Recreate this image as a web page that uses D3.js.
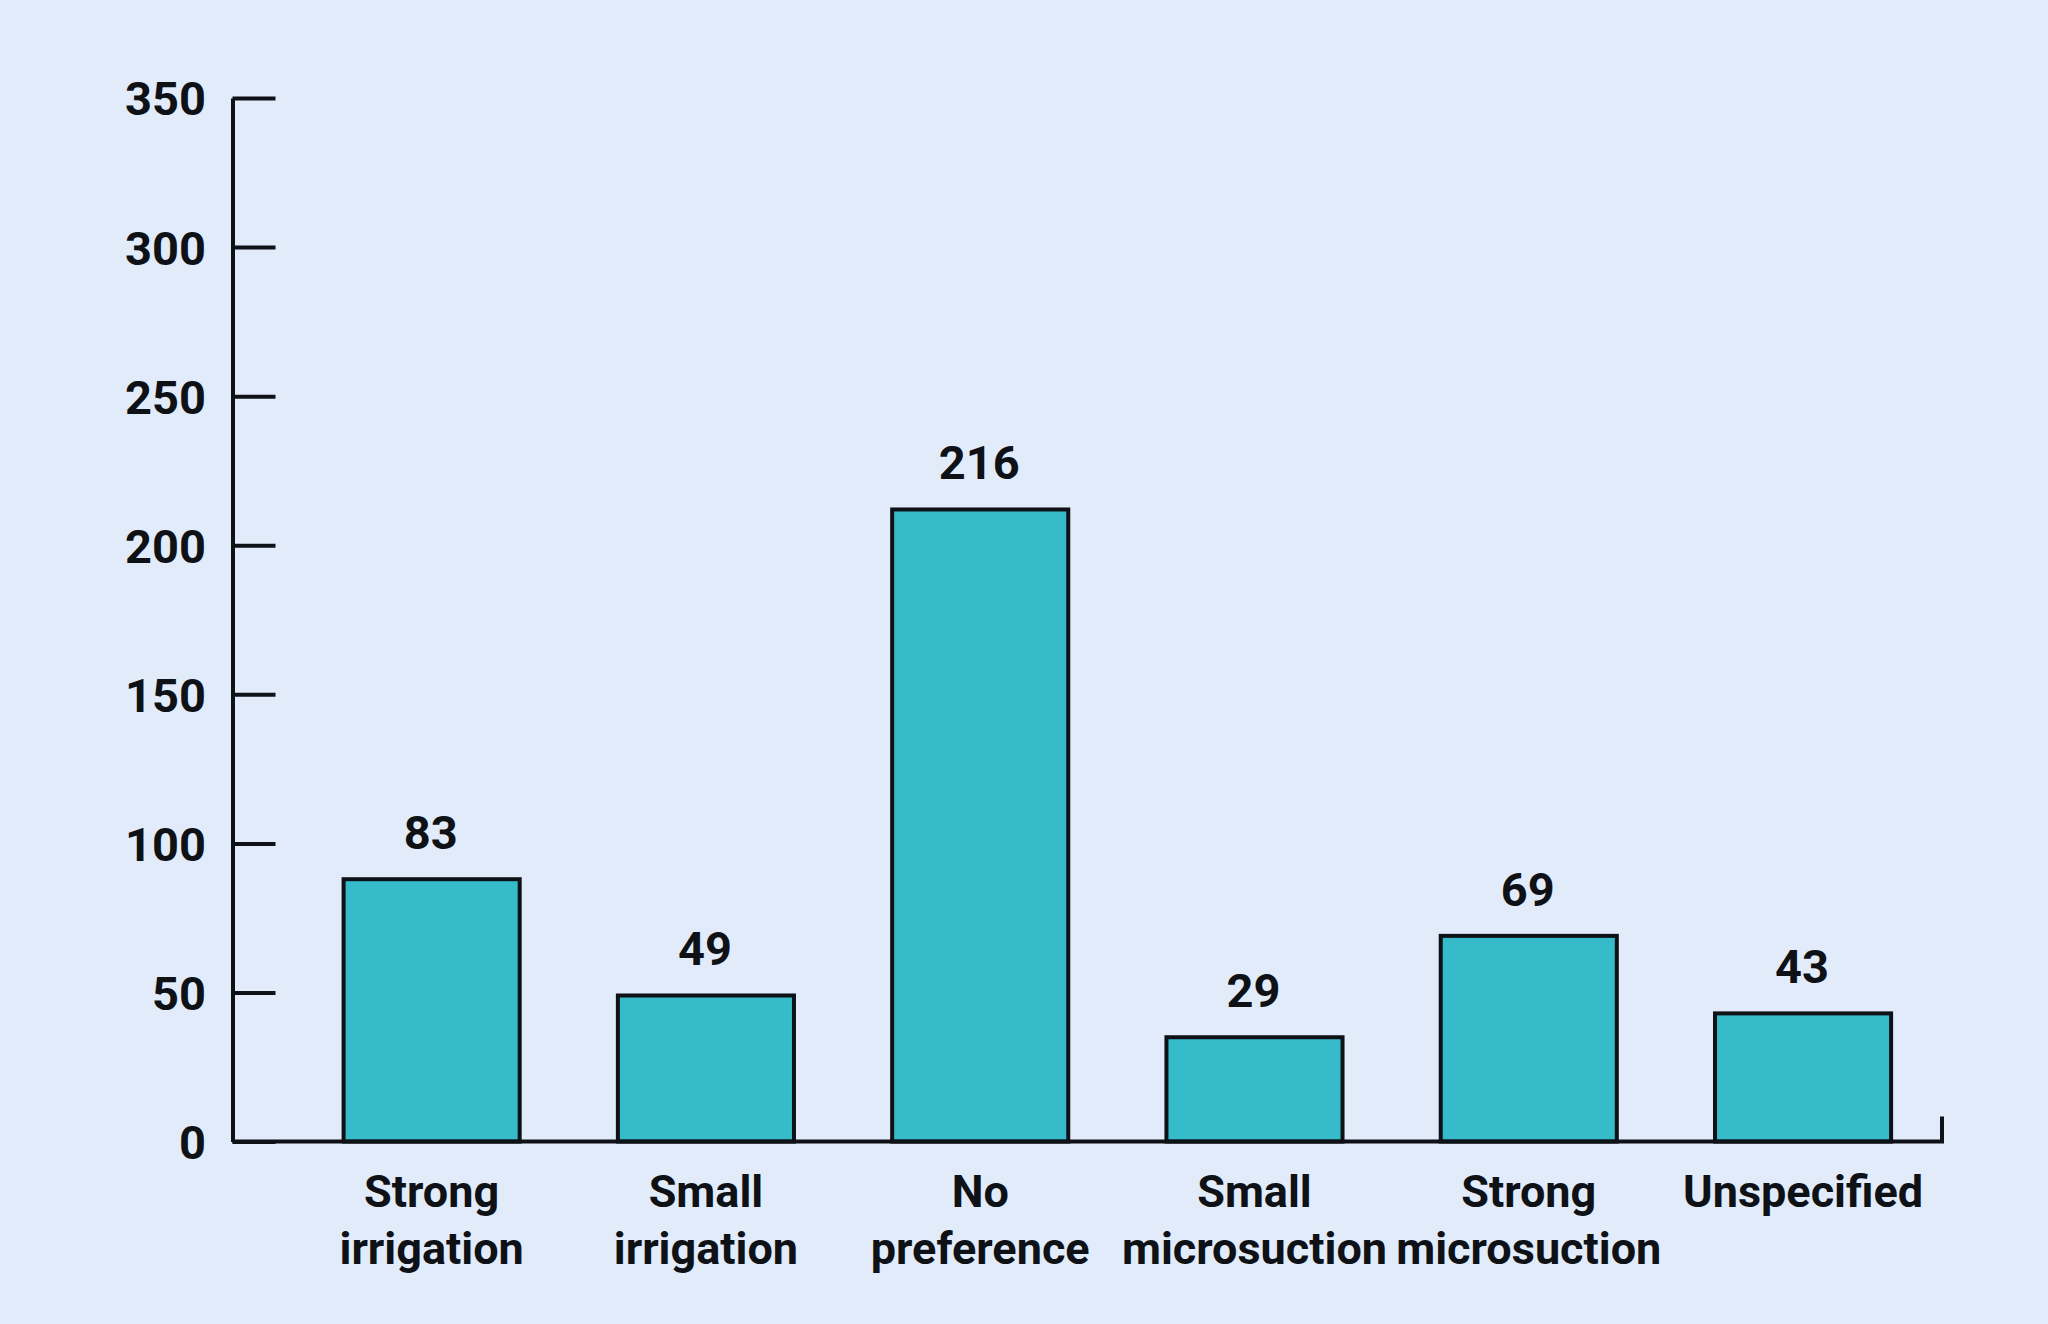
<!DOCTYPE html>
<html>
<head>
<meta charset="utf-8">
<script src="https://cdn.jsdelivr.net/npm/d3@7"></script>
<style>
  html, body { margin: 0; padding: 0; background: #E1EBFA; }
  svg { display: block; }
  text { font-family: Roboto, "Liberation Sans", sans-serif; font-weight: 700; fill: #0E1116; }
</style>
</head>
<body>
<script>
// ---- data ----
const categories = [
  ["Strong", "irrigation"],
  ["Small", "irrigation"],
  ["No", "preference"],
  ["Small", "microsuction"],
  ["Strong", "microsuction"],
  ["Unspecified"]
];
// bar heights as drawn in the picture
const barValues = [88, 49, 212, 35, 69, 43];
// value labels printed above bars
const labelValues = [83, 49, 216, 29, 69, 43];
const yTicks = [0, 50, 100, 150, 200, 250, 300, 350];

// ---- layout ----
const W = 2048, H = 1324;
const axisX = 232.5, axisEndX = 1942;
const yTop = 98, yBottom = 1141.6;

const svg = d3.select("body").append("svg")
  .attr("width", W).attr("height", H);

svg.append("rect").attr("width", W).attr("height", H).attr("fill", "#E1EBFA");

const keys = categories.map((c, i) => i);
const x = d3.scaleBand()
  .domain(keys)
  .range([294.5, 1940.2])
  .paddingInner(0.358)
  .paddingOuter(0.179);

const y = d3.scaleLinear().domain([0, 350]).range([yBottom, yTop]);

// bars
svg.append("g").selectAll("rect")
  .data(barValues)
  .join("rect")
  .attr("x", (d, i) => x(i))
  .attr("width", x.bandwidth())
  .attr("y", d => y(d))
  .attr("height", d => y(0) - y(d))
  .attr("fill", "#35BBCA")
  .attr("stroke", "#0E1116")
  .attr("stroke-width", 4);

// value labels
svg.append("g").selectAll("text")
  .data(labelValues)
  .join("text")
  .attr("x", (d, i) => x(i) + x.bandwidth() / 2 - 1)
  .attr("y", (d, i) => y(barValues[i]) - 30)
  .attr("text-anchor", "middle")
  .attr("font-size", 47)
  .text(d => d);

// y axis
const yAxis = d3.axisLeft(y)
  .tickValues(yTicks)
  .tickSizeInner(-43)
  .tickSizeOuter(0)
  .tickPadding(26.5);

const gy = svg.append("g")
  .attr("transform", `translate(${axisX},0)`)
  .call(yAxis);
gy.select(".domain").attr("stroke", "#0E1116").attr("stroke-width", 4);
gy.selectAll(".tick line").attr("stroke", "#0E1116").attr("stroke-width", 4);
gy.selectAll(".tick text")
  .attr("font-size", 47)
  .attr("font-family", null)
  .attr("fill", "#0E1116")
  .attr("dy", "0.36em");
gy.attr("font-family", null).attr("font-size", null);

// x axis baseline with small end tick
svg.append("path")
  .attr("d", `M${axisX},${y(0)}H${axisEndX}V${y(0) - 25}`)
  .attr("fill", "none")
  .attr("stroke", "#0E1116")
  .attr("stroke-width", 4);

// category labels
const gl = svg.append("g");
categories.forEach((lines, i) => {
  const t = gl.append("text")
    .attr("x", x(i) + x.bandwidth() / 2)
    .attr("y", 1207)
    .attr("text-anchor", "middle")
    .attr("font-size", 45);
  lines.forEach((ln, j) => {
    t.append("tspan")
      .attr("x", x(i) + x.bandwidth() / 2)
      .attr("dy", j === 0 ? 0 : 57)
      .text(ln);
  });
});
</script>
</body>
</html>
